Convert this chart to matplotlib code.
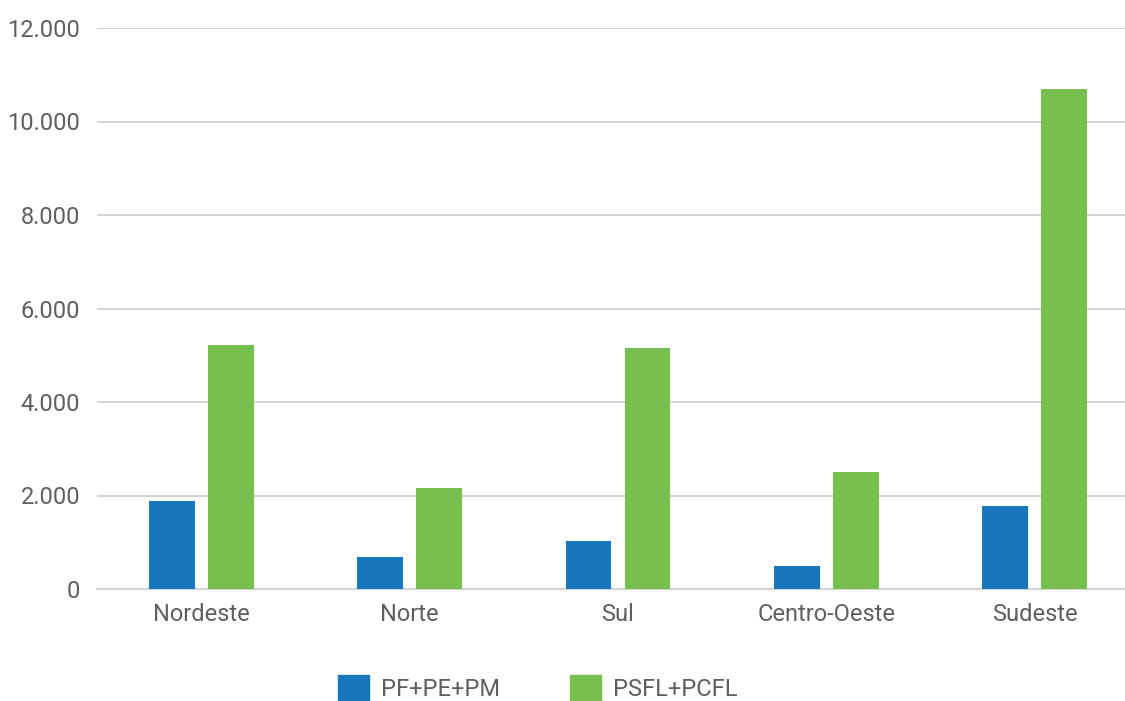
import matplotlib
matplotlib.use("Agg")
import matplotlib.pyplot as plt
import numpy as np
from matplotlib.patches import Rectangle

categories = ["Nordeste", "Norte", "Sul", "Centro-Oeste", "Sudeste"]
series_names = ["PF+PE+PM", "PSFL+PCFL"]
pf_values = [1880, 680, 1030, 490, 1770]
psfl_values = [5220, 2160, 5150, 2500, 10700]
yticks = [0, 2000, 4000, 6000, 8000, 10000, 12000]
ytick_labels = ["0", "2.000", "4.000", "6.000", "8.000", "10.000", "12.000"]

blue = "#1776bc"
green = "#77bf4f"
txt = "#5f5f5f"

plt.rcParams["font.family"] = ["Roboto", "DejaVu Sans"]
W, H = 1125, 701
fig = plt.figure(figsize=(W / 100, H / 100), dpi=100)
left = 97 / W
bottom = (H - 589) / H
top = (H - 28) / H
ax = fig.add_axes([left, bottom, 1042 / W, top - bottom])

x = np.arange(len(categories))
bw = 0.22
off = 0.1415
ax.bar(x - off, pf_values, bw, color=blue, zorder=3)
ax.bar(x + off, psfl_values, bw, color=green, zorder=3)

ax.set_xlim(-0.5, len(categories) - 0.5)
ax.set_ylim(0, 12000)
ax.set_yticks(yticks)
ax.set_yticklabels(ytick_labels)
ax.set_xticks(x)
ax.set_xticklabels(categories)
ax.grid(axis="y", color="#cccccc", linewidth=1.2, zorder=0)
for s in ["top", "right", "left"]:
    ax.spines[s].set_visible(False)
ax.spines["bottom"].set_color("#cccccc")
ax.spines["bottom"].set_linewidth(1.2)
ax.tick_params(axis="both", length=0, labelsize=17, colors=txt)
ax.tick_params(axis="y", pad=12)
ax.tick_params(axis="x", pad=10)

# legend
handles = [Rectangle((0, 0), 1, 1, color=blue), Rectangle((0, 0), 1, 1, color=green)]
leg = fig.legend(handles, series_names, loc="center", bbox_to_anchor=(0.478, (H - 688) / H),
                 ncol=2, frameon=False, fontsize=17, handlelength=1.3, handleheight=1.3,
                 handletextpad=0.5, columnspacing=3.0, labelcolor=txt)

fig.savefig("out.png", dpi=100)
